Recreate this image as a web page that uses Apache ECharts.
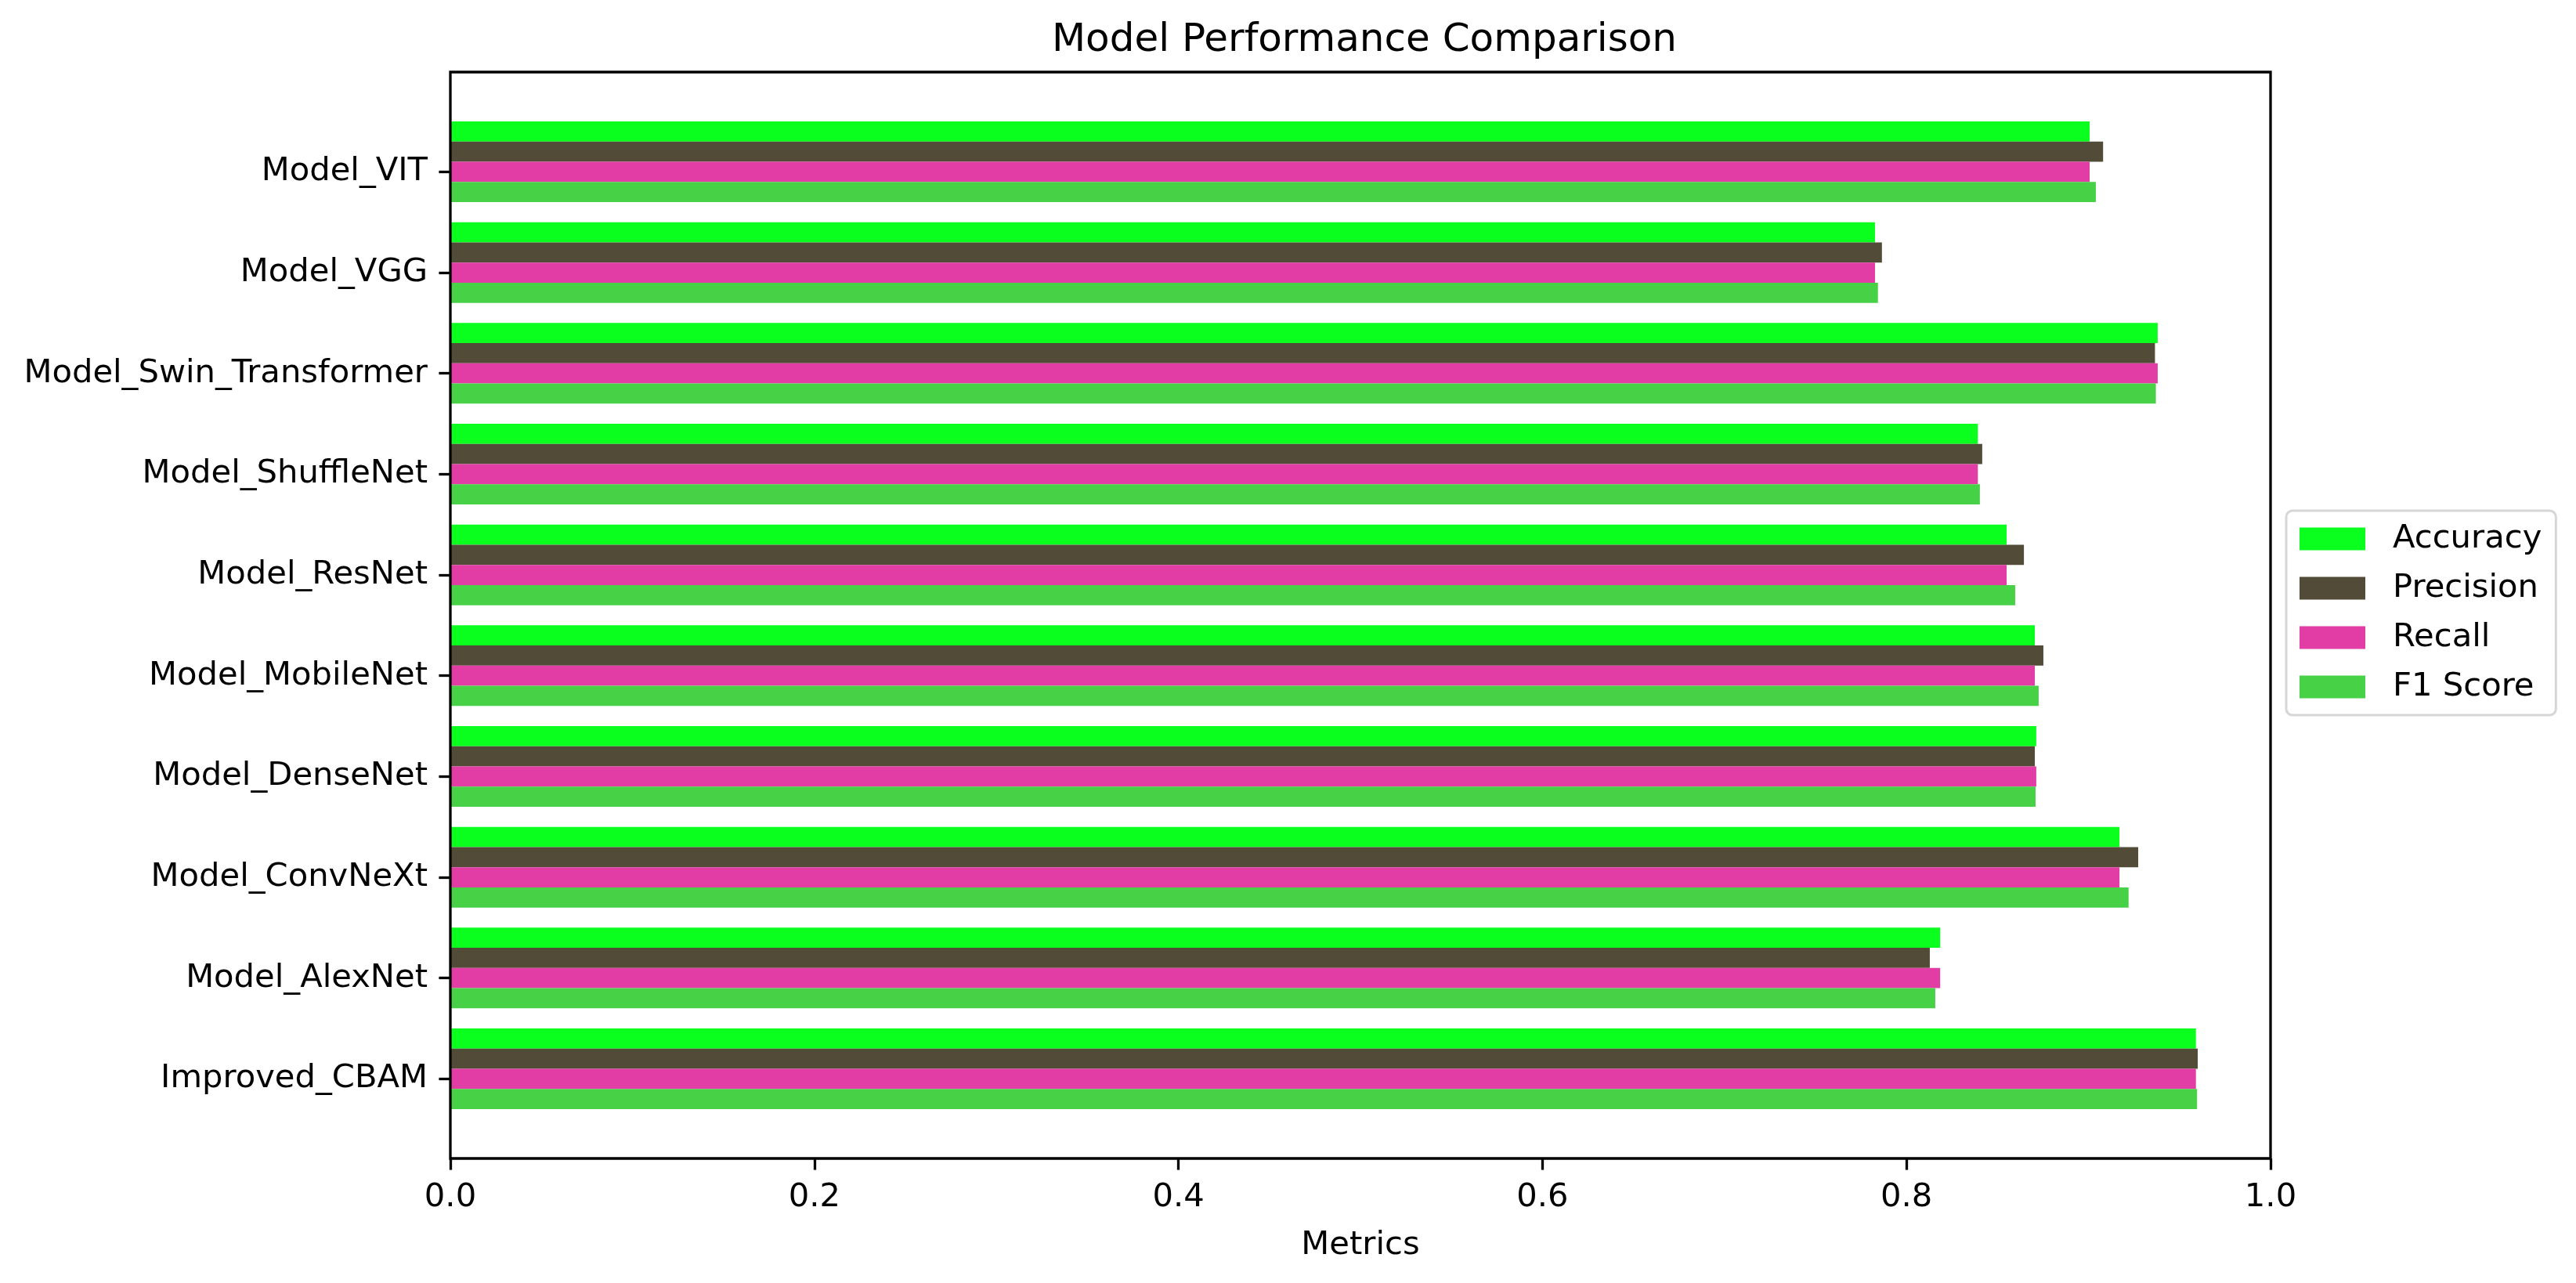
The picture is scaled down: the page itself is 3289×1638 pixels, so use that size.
<!DOCTYPE html>
<html lang="en">
<head>
    <meta charset="utf-8" />
    <title>Model Performance Comparison</title>
    <script src="https://cdn.jsdelivr.net/npm/echarts@6/dist/echarts.min.js"></script>
    <style>
        body {
            margin: 0;
            padding: 0;
            background: #FFFFFF;
        }

        #main {
            width: 3289px;
            height: 1638px;
        }
    </style>
</head>
<body>
<div id="main"></div>
<script type="text/javascript">
    // Data (bottom to top, as on the chart)
    const models = ['Improved_CBAM', 'Model_AlexNet', 'Model_ConvNeXt', 'Model_DenseNet', 'Model_MobileNet',
        'Model_ResNet', 'Model_ShuffleNet', 'Model_Swin_Transformer', 'Model_VGG', 'Model_VIT'];
    const accuracy = [0.959, 0.8185, 0.917, 0.8713, 0.8705, 0.855, 0.8392, 0.938, 0.7827, 0.9006];
    const precision = [0.960, 0.8128, 0.9273, 0.8705, 0.8752, 0.8645, 0.8416, 0.9365, 0.7865, 0.908];
    const recall = [0.959, 0.8185, 0.917, 0.8713, 0.8705, 0.855, 0.8392, 0.938, 0.7827, 0.9006];
    const f1Score = [0.9596, 0.8158, 0.922, 0.8709, 0.8726, 0.8597, 0.8403, 0.937, 0.7843, 0.904];
    const metricNames = ['Accuracy', 'Precision', 'Recall', 'F1 Score'];
    const xTicks = [0, 0.2, 0.4, 0.6, 0.8, 1.0];

    const colors = ['#0AFF1E', '#514B37', '#E13DA4', '#46D146'];

    // Axes box (pixels); the y range runs from -0.79 to 9.99 like matplotlib's
    const box = {left: 575, top: 92, width: 2324, height: 1387};
    const unit = box.height / 10.78;          // one category band
    const padTop = 0.49 * unit;
    const padBottom = 0.29 * unit;
    const fontPx = 41.7;                      // 10pt at 300 dpi
    const lineW = 3.3;

    var myChart = echarts.init(document.getElementById('main'));

    // The bars sit above the tick: Recall is centred on it, so an empty
    // fifth slot below F1 Score fills the rest of each band.
    const barSeries = [
        {name: 'Accuracy', data: accuracy},
        {name: 'Precision', data: precision},
        {name: 'Recall', data: recall},
        {name: 'F1 Score', data: f1Score}
    ].map((s, i) => ({
        name: s.name,
        type: 'bar',
        data: s.data,
        barGap: '0%',
        barCategoryGap: '0%',
        itemStyle: {color: colors[i]}
    }));
    barSeries.push({
        name: 'spacer',
        type: 'bar',
        data: [],
        barGap: '0%',
        barCategoryGap: '0%',
        silent: true
    });

    var option = {
        animation: false,
        backgroundColor: '#FFFFFF',
        textStyle: {fontFamily: 'DejaVu Sans'},
        title: {
            text: 'Model Performance Comparison',
            left: box.left + box.width / 2,
            textAlign: 'center',
            top: 22,
            textStyle: {
                color: '#000000',
                fontFamily: 'DejaVu Sans',
                fontWeight: 'normal',
                fontSize: 50
            }
        },
        legend: {
            data: metricNames,
            orient: 'vertical',
            left: 2919,
            top: 652,
            itemWidth: 84,
            itemHeight: 29,
            itemGap: 21,
            padding: [15, 18, 15, 17],
            borderColor: '#D6D6D6',
            borderWidth: 3,
            borderRadius: 8,
            icon: 'rect',
            textStyle: {
                color: '#000000',
                fontFamily: 'DejaVu Sans',
                fontSize: fontPx,
                lineHeight: 42,
                padding: [0, 0, 0, 30]
            }
        },
        grid: {
            left: box.left,
            top: box.top + padTop,
            width: box.width,
            height: box.height - padTop - padBottom,
            containLabel: false
        },
        xAxis: {
            type: 'value',
            min: 0,
            max: 1,
            interval: 0.2,
            offset: padBottom,
            name: 'Metrics',
            nameLocation: 'middle',
            nameGap: 90,
            nameTextStyle: {
                color: '#000000',
                fontFamily: 'DejaVu Sans',
                fontSize: fontPx
            },
            axisLine: {show: false},
            axisTick: {
                show: true,
                length: 14.6,
                lineStyle: {color: '#000000', width: lineW}
            },
            axisLabel: {
                color: '#000000',
                fontFamily: 'DejaVu Sans',
                fontSize: fontPx,
                margin: 29,
                formatter: (v) => xTicks.includes(Math.round(v * 10) / 10) ? v.toFixed(1) : ''
            },
            splitLine: {show: false}
        },
        yAxis: {
            type: 'category',
            data: models,
            axisLine: {show: false},
            axisTick: {
                show: true,
                alignWithLabel: true,
                length: 14.6,
                lineStyle: {color: '#000000', width: lineW}
            },
            axisLabel: {
                color: '#000000',
                fontFamily: 'DejaVu Sans',
                fontSize: fontPx,
                margin: 29,
                padding: [10, 0, 0, 0]
            },
            splitLine: {show: false}
        },
        graphic: [
            {
                type: 'rect',
                z: 100,
                silent: true,
                shape: {x: box.left, y: box.top, width: box.width, height: box.height},
                style: {fill: 'none', stroke: '#000000', lineWidth: lineW}
            }
        ],
        series: barSeries
    };

    myChart.setOption(option);
</script>
</body>
</html>
